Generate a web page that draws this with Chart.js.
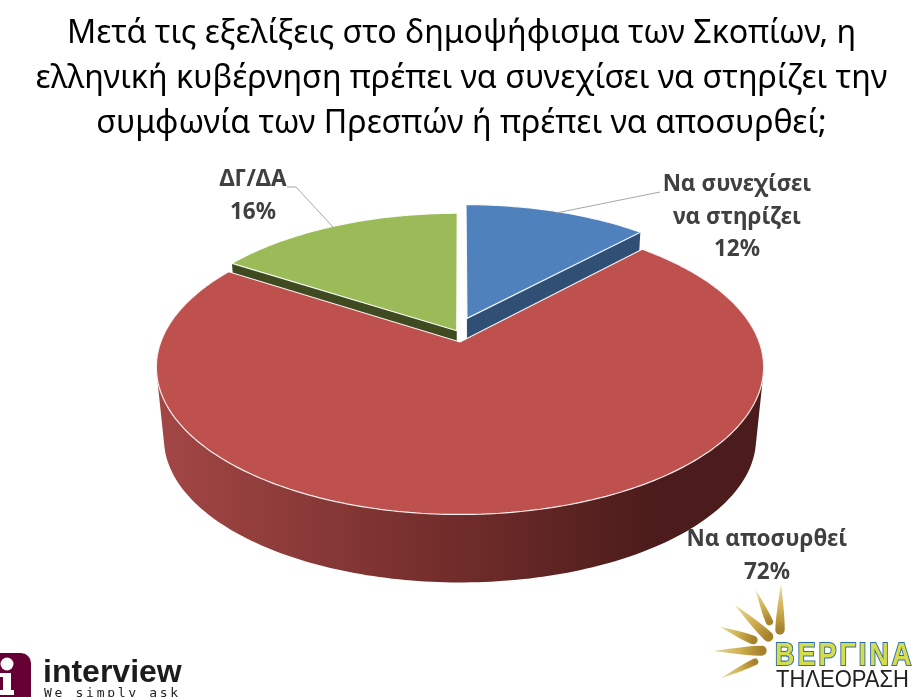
<!DOCTYPE html>
<html><head><meta charset="utf-8">
<style>html,body{margin:0;padding:0;background:#fff;overflow:hidden}canvas{display:block}</style>
<script src="https://cdn.jsdelivr.net/npm/chart.js@4"></script>
</head><body><div style="width:923px;height:697px"><canvas id="c" width="923" height="697"></canvas></div>
<script>
const titleLines = ["Μετά τις εξελίξεις στο δημοψήφισμα των Σκοπίων, η","ελληνική κυβέρνηση πρέπει να συνεχίσει να στηρίζει την","συμφωνία των Πρεσπών ή πρέπει να αποσυρθεί;"];
const categories = ["Να συνεχίσει να στηρίζει","Να αποσυρθεί","ΔΓ/ΔΑ"];
const values = [12,72,16];
const faceColors = ["#4F81BD","#BE504E","#9BBB59"];
const labelLines = [["Να συνεχίσει","να στηρίζει"],["Να αποσυρθεί"],["ΔΓ/ΔΑ"]];
const labelPlaces = [[737,185],[767,540],[253,180]];
const leaders = [[[660,192],[556,213]],null,[[287,187],[296,187],[333,227]]];
// perspective of the pie plane
const P = {cx:460, y0:342, A:298.6, B:142.8, q:0.17, depth:72.3, far:0.975};
const slicePlace = [{u:.024,v:-.17,r:.98},{u:0,v:0,r:1.002},{u:-.011,v:-.08,r:.985}];
const rays = [[243,12,240,150,14],[167,30,208,125,11],[105,75,205,170,15],[60,140,160,180,13],[40,213,185,212,15],[62,295,165,245,10]];

function project(u,v,low){
  const w = 1 - P.q*v, s = low ? P.far : 1;
  return [P.cx + s*P.A*u/w, P.y0 + (low?P.depth:0) + s*P.B*v/w];
}
function mapper(el,i,low){
  const p = slicePlace[i];
  return (x,y)=>project((x-el.x)/el.outerRadius*p.r+p.u,(y-el.y)/el.outerRadius*p.r+p.v,low);
}
function sidePath(ctx,el,i,a0,a1){
  const top = mapper(el,i,false), low = mapper(el,i,true), R = el.outerRadius, n = 240;
  const pts = f=>{const o=[];for(let k=0;k<=n;k++){const a=a0+(a1-a0)*k/n;o.push(f(el.x+R*Math.cos(a),el.y+R*Math.sin(a)));}return o;};
  const t = pts(top), b = pts(low);
  ctx.beginPath();
  for(let k=0;k<n;k++){
    let q=[t[k],t[k+1],b[k+1],b[k]], area=0;
    q.forEach((p,j)=>{const m=q[(j+1)%4];area+=p[0]*m[1]-m[0]*p[1];});
    if(area<0) q=q.reverse();
    q.forEach((p,j)=>j?ctx.lineTo(p[0],p[1]):ctx.moveTo(p[0],p[1]));
    ctx.closePath();
  }
}
function cutPath(ctx,el,i,a){
  const top = mapper(el,i,false), low = mapper(el,i,true), R = el.outerRadius;
  const ex=el.x+R*Math.cos(a), ey=el.y+R*Math.sin(a);
  const pts=[top(el.x,el.y),top(ex,ey),low(ex,ey),low(el.x,el.y)];
  ctx.beginPath();
  pts.forEach((q,k)=>k?ctx.lineTo(q[0],q[1]):ctx.moveTo(q[0],q[1]));
  ctx.closePath();
}
function drawFace(ctx,el,i){
  const f = mapper(el,i,false);
  const oLine = ctx.lineTo, oMove = ctx.moveTo;
  ctx.lineTo = function(x,y){const q=f(x,y);oLine.call(ctx,q[0],q[1]);};
  ctx.moveTo = function(x,y){const q=f(x,y);oMove.call(ctx,q[0],q[1]);};
  ctx.arc = function(x,y,r,a0,a1,ccw){
    let d=a1-a0; if(ccw&&d>0)d-=Math.PI*2; if(!ccw&&d<0)d+=Math.PI*2;
    const n=Math.max(2,Math.ceil(Math.abs(d)*60));
    for(let k=0;k<=n;k++){const a=a0+d*k/n;ctx.lineTo(x+r*Math.cos(a),y+r*Math.sin(a));}
  };
  el.draw(ctx);
  delete ctx.lineTo; delete ctx.moveTo; delete ctx.arc;
}
const tiltPlugin = {
  id:'tilt',
  beforeDatasetsDraw(chart){
    const ctx = chart.ctx, arcs = chart.getDatasetMeta(0).data;
    ctx.save();
    // rear slices first
    ctx.fillStyle="#2F4F75"; cutPath(ctx,arcs[0],0,arcs[0].endAngle); ctx.fill();
    drawFace(ctx,arcs[0],0);
    ctx.fillStyle="#3F4A20"; cutPath(ctx,arcs[2],2,arcs[2].startAngle); ctx.fill();
    drawFace(ctx,arcs[2],2);
    const g = ctx.createLinearGradient(157,0,763,0);
    g.addColorStop(0,"#A34745"); g.addColorStop(.5,"#702C2A"); g.addColorStop(.82,"#4B1C1B"); g.addColorStop(1,"#4B1C1B");
    ctx.fillStyle=g; sidePath(ctx,arcs[1],1,arcs[1].startAngle,arcs[1].endAngle); ctx.fill('nonzero');
    drawFace(ctx,arcs[1],1);
    ctx.restore();
    return false;
  },
  afterDraw(chart){
    const ctx = chart.ctx;
    ctx.save();
    // leader lines
    ctx.strokeStyle="#A6A6A6"; ctx.lineWidth=1;
    leaders.forEach(l=>{ if(!l) return; ctx.beginPath(); l.forEach((q,k)=>k?ctx.lineTo(q[0],q[1]):ctx.moveTo(q[0],q[1])); ctx.stroke(); });
    // data labels
    ctx.fillStyle="#404040"; ctx.textAlign="center"; ctx.textBaseline="middle";
    ctx.font="bold 22.5px 'Noto Sans'";
    labelLines.forEach((ls,i)=>{
      const [x,y]=labelPlaces[i];
      ls.concat(values[i]+"%").forEach((t,k)=>ctx.fillText(t,x,y+k*32.5));
    });
    // interview logo
    ctx.fillStyle="#640033"; ctx.beginPath(); ctx.roundRect(-14,653,45,60,10); ctx.fill();
    ctx.fillStyle="#fff"; ctx.beginPath(); ctx.arc(7,664,6.5,0,Math.PI*2); ctx.fill();
    ctx.fillRect(0,673,11,4); ctx.fillRect(3,673,8,20); ctx.fillRect(0,690,14,5);
    ctx.textAlign="left"; ctx.textBaseline="alphabetic";
    ctx.fillStyle="#1c1c1c"; ctx.font="bold 32px 'Liberation Sans'";
    ctx.fillText("interview",43,682);
    ctx.font="13px 'DejaVu Sans Mono'"; ctx.fillStyle="#222"; ctx.letterSpacing="2.7px";
    ctx.fillText("We simply ask",44,697); ctx.letterSpacing="0px";
    // Vergina logo
    rays.forEach(r=>{
      const tx=700+r[0]/3, ty=580+r[1]/3, fx=700+r[2]/3, fy=580+r[3]/3, w=r[4]/3;
      const a=Math.atan2(fy-ty,fx-tx), nx=-Math.sin(a), ny=Math.cos(a);
      const gr=ctx.createLinearGradient(tx,ty,fx,fy);
      gr.addColorStop(0,"#EADBA6"); gr.addColorStop(.55,"#D0AF50"); gr.addColorStop(1,"#A5822B");
      ctx.fillStyle=gr; ctx.beginPath(); ctx.moveTo(tx,ty);
      ctx.quadraticCurveTo(fx-(fx-tx)*.3+nx*w,fy-(fy-ty)*.3+ny*w,fx+nx*w,fy+ny*w);
      ctx.arc(fx,fy,w,a+Math.PI/2,a-Math.PI/2,true);
      ctx.quadraticCurveTo(fx-(fx-tx)*.3-nx*w,fy-(fy-ty)*.3-ny*w,tx,ty);
      ctx.fill();
    });
    ctx.save(); ctx.translate(775,665); ctx.scale(1,1.15);
    ctx.font="bold 27px 'Liberation Sans'"; ctx.letterSpacing="3px"; ctx.lineWidth=1.8;
    ctx.strokeStyle="#2B6FA8"; ctx.fillStyle="#D6DC4A";
    ctx.strokeText("ΒΕΡΓΙΝΑ",0,0); ctx.fillText("ΒΕΡΓΙΝΑ",0,0); ctx.restore();
    ctx.save(); ctx.translate(776,687); ctx.scale(1,1.12);
    ctx.fillStyle="#222"; ctx.font="22px 'Liberation Sans'";
    ctx.fillText("ΤΗΛΕΟΡΑΣΗ",0,0); ctx.restore();
    ctx.restore();
  }
};
new Chart(document.getElementById('c'),{
  type:'pie',
  data:{labels:categories,datasets:[{data:values,backgroundColor:faceColors,borderColor:"rgba(255,255,255,.9)",borderWidth:1.2}]},
  options:{
    responsive:false,animation:false,devicePixelRatio:1,
    plugins:{
      legend:{display:false},tooltip:{enabled:false},
      title:{display:true,text:titleLines,color:"#000",font:{family:"'Noto Sans'",size:32.2,weight:'normal',lineHeight:1.4},padding:{top:11,bottom:10}}
    }
  },
  plugins:[tiltPlugin]
});
</script></body></html>
